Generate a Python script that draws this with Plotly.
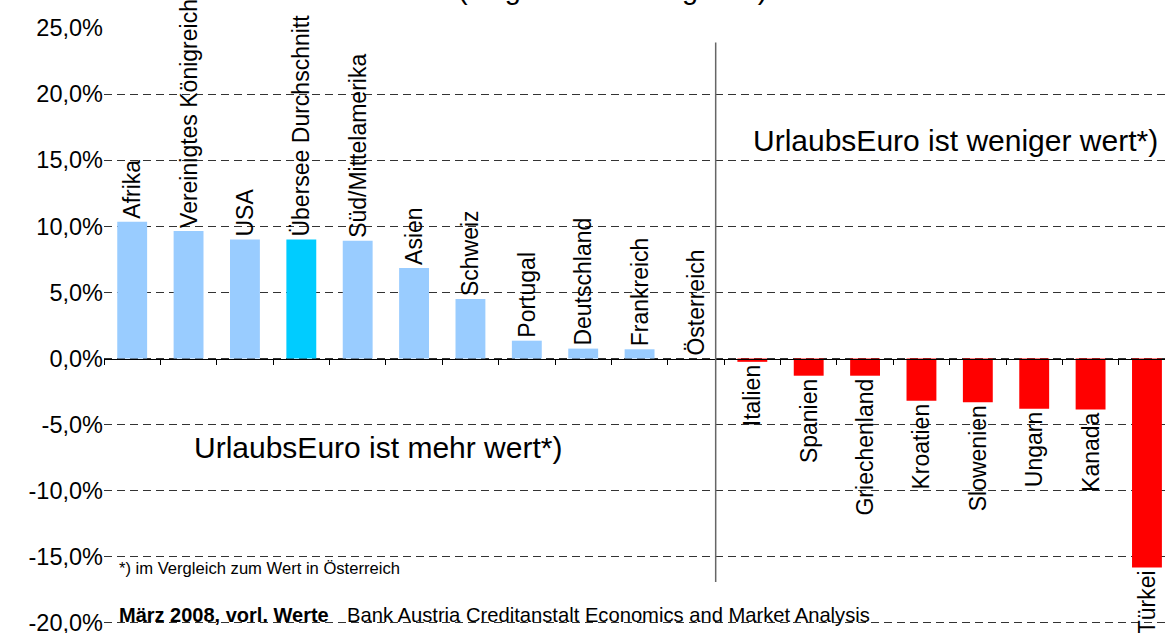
import plotly.graph_objects as go

# ---- data ----
laender = ["Afrika", "Vereinigtes Königreich", "USA", "Übersee Durchschnitt",
           "Süd/Mittelamerika", "Asien", "Schweiz", "Portugal", "Deutschland",
           "Frankreich", "Österreich", "Italien", "Spanien", "Griechenland",
           "Kroatien", "Slowenien", "Ungarn", "Kanada", "Türkei"]
werte = [10.35, 9.65, 9.0, 9.0, 8.9, 6.85, 4.5, 1.35, 0.75, 0.7, 0.0,
         -0.25, -1.3, -1.3, -3.2, -3.3, -3.8, -3.85, -15.8]
hervorgehoben = "Übersee Durchschnitt"
tick_werte = [-20, -15, -10, -5, 0, 5, 10, 15, 20, 25]
tick_texte = ["-20,0%", "-15,0%", "-10,0%", "-5,0%", "0,0%", "5,0%",
              "10,0%", "15,0%", "20,0%", "25,0%"]

titel = "(Regionen im Vergleich)"
text_oben = "UrlaubsEuro ist weniger wert*)"
text_unten = "UrlaubsEuro ist mehr wert*)"
fussnote = "*) im Vergleich zum Wert in Österreich"
quelle_datum = "<b>März 2008, vorl. Werte</b>"
quelle = "Bank Austria Creditanstalt Economics and Market Analysis"

# ---- styles ----
FONT = "Arial, 'Liberation Sans', sans-serif"
farben = []
for land, w in zip(laender, werte):
    if land == hervorgehoben:
        farben.append("#00CCFF")
    elif w < 0:
        farben.append("#FF0000")
    else:
        farben.append("#99CCFF")

Y_MIN, Y_MAX = -20.08, 25.0
TRENNLINIE_X = 10.35

fig = go.Figure()
fig.add_trace(go.Bar(
    x=laender, y=werte, width=0.53,
    marker=dict(color=farben, line=dict(width=0)),
    text=laender, textposition="outside", textangle=-90,
    textfont=dict(size=23, color="black", family=FONT),
    constraintext="none", cliponaxis=False, hoverinfo="x+y",
))

# divider line between the two groups
fig.add_shape(type="line", xref="x", yref="y", x0=TRENNLINIE_X, x1=TRENNLINIE_X,
              y0=-16.9, y1=23.9, line=dict(color="#666666", width=1.5))

ann_font = dict(family=FONT, color="black")
fig.add_annotation(text=titel, xref="paper", yref="paper", x=0.479, y=1.036,
                   xanchor="center", yanchor="bottom", showarrow=False,
                   font=dict(size=29, **ann_font))
fig.add_annotation(text=text_oben, xref="x", yref="y", x=14.6, y=16.5,
                   xanchor="center", yanchor="middle", showarrow=False,
                   font=dict(size=30, **ann_font))
fig.add_annotation(text=text_unten, xref="x", yref="y", x=4.36, y=-6.73,
                   xanchor="center", yanchor="middle", showarrow=False,
                   font=dict(size=30, **ann_font))
fig.add_annotation(text=fussnote, xref="x", yref="y", x=-0.266, y=-15.9,
                   xanchor="left", yanchor="middle", showarrow=False,
                   font=dict(size=16.6, **ann_font))
fig.add_annotation(text=quelle_datum, xref="x", yref="y", x=-0.266, y=-19.4,
                   xanchor="left", yanchor="middle", showarrow=False,
                   font=dict(size=20, **ann_font))
fig.add_annotation(text=quelle, xref="x", yref="y", x=3.777, y=-19.4,
                   xanchor="left", yanchor="middle", showarrow=False,
                   font=dict(size=20.2, **ann_font))

fig.update_layout(
    width=1165, height=633,
    margin=dict(l=104, r=0, t=28, b=9, autoexpand=False),
    plot_bgcolor="white", paper_bgcolor="white",
    showlegend=False,
    font=dict(family=FONT, color="black"),
    xaxis=dict(type="category", range=[-0.5, 18.32], anchor="free",
               position=(0 - Y_MIN) / (Y_MAX - Y_MIN), automargin=False,
               showline=True, linecolor="black", linewidth=1,
               ticks="outside", tickson="boundaries", ticklen=5,
               tickcolor="black", showticklabels=False, showgrid=False,
               zeroline=False, fixedrange=True),
    yaxis=dict(range=[Y_MIN, Y_MAX], tickvals=tick_werte, ticktext=tick_texte,
               tickfont=dict(size=23.5, family=FONT, color="black"),
               ticklabeloverflow="allow", automargin=False,
               showgrid=True, gridcolor="#333333", gridwidth=1,
               griddash="8px,5px", zeroline=False, showline=False,
               ticks="", fixedrange=True),
)

fig.write_html("out.html",
               config={"displayModeBar": False},
               post_script="document.body.style.margin='0';")
